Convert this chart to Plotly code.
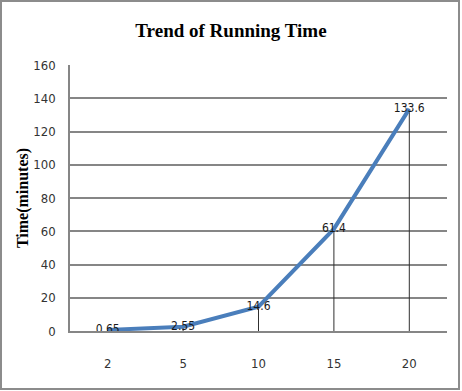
import plotly.graph_objects as go

categories = ["2", "5", "10", "15", "20"]
times = [0.65, 2.55, 14.6, 61.4, 133.6]
labels = ["0.65", "2.55", "14.6", "61.4", "133.6"]
y_ticks = [0, 20, 40, 60, 80, 100, 120, 140, 160]

W, H = 462, 391
L, R, T, B = 70, 15, 65, 60
pw, ph = W - L - R, H - T - B

def px(x):
    return (x - L) / pw

def py(y):
    return (H - B - y) / ph

narrow = "Liberation Sans Narrow, DejaVu Sans Condensed, Arial Narrow, sans-serif"
serif = "Liberation Serif, Times New Roman, serif"

fig = go.Figure()

# drop lines
fig.add_trace(go.Scatter(
    x=categories, y=times, mode="markers",
    marker=dict(size=0.1, color="rgba(0,0,0,0)"),
    error_y=dict(type="data", symmetric=False, array=[0] * len(times),
                 arrayminus=times, color="#303030", thickness=1, width=0),
    hoverinfo="skip", showlegend=False,
))

# main line
fig.add_trace(go.Scatter(
    x=categories, y=times, mode="lines+text",
    line=dict(color="#4A7EBB", width=4),
    text=labels, textposition="middle center",
    textfont=dict(family=narrow, size=12, color="#1a1a1a"),
    showlegend=False,
))

fig.update_layout(
    width=W, height=H,
    margin=dict(l=L, r=R, t=T, b=B),
    paper_bgcolor="white", plot_bgcolor="white",
    title=dict(text="<b>Trend of Running Time</b>", x=0.5, xanchor="center",
               y=1 - 30 / H, yanchor="middle",
               font=dict(family=serif, size=19, color="black")),
    xaxis=dict(type="category", showgrid=False, showline=True,
               linecolor="#868686", linewidth=1.5, ticks="",
               tickfont=dict(family=narrow, size=13, color="#333333"),
               ticklabelstandoff=20, range=[-0.5, 4.5]),
    yaxis=dict(range=[0, 160], tickvals=y_ticks, showgrid=True,
               gridcolor="#868686", gridwidth=1.5, showline=True,
               linecolor="#868686", linewidth=1.5, zeroline=False,
               tickfont=dict(family=narrow, size=13, color="#333333"),
               ticks="", ticklabelstandoff=10,
               title=dict(text="<b>Time(minutes)</b>",
                          font=dict(family=serif, size=16, color="black"),
                          standoff=1)),
    shapes=[dict(type="rect", xref="paper", yref="paper",
                 x0=px(1), x1=px(459), y0=py(389), y1=py(1),
                 line=dict(color="#8c8c8c", width=2), layer="below")],
)

fig.write_html("out.html", config={"displayModeBar": False},
               post_script="document.body.style.margin='0';document.body.style.padding='0';")
